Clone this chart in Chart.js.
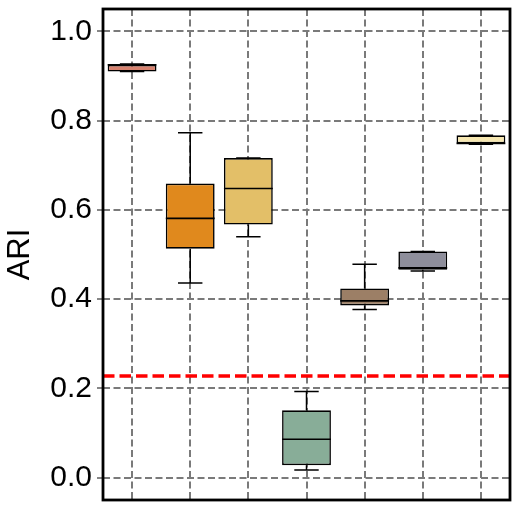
<!DOCTYPE html>
<html>
<head>
<meta charset="utf-8">
<script src="https://cdn.jsdelivr.net/npm/chart.js@4/dist/chart.umd.min.js"></script>
<style>
  html, body { margin: 0; padding: 0; background: #fff; }
  #wrap { width: 519px; height: 511px; }
</style>
</head>
<body>
<div id="wrap"><canvas id="ariChart" width="519" height="511"></canvas></div>
<script>
// categories (no labels shown on the x axis)
const methods = ['M1', 'M2', 'M3', 'M4', 'M5', 'M6', 'M7'];

// box statistics
const mins    = [0.910, 0.436, 0.540, 0.017, 0.377, 0.463, 0.747];
const q1s     = [0.910, 0.513, 0.567, 0.028, 0.386, 0.466, 0.749];
const medians = [0.925, 0.581, 0.648, 0.086, 0.396, 0.470, 0.749];
const q3s     = [0.925, 0.659, 0.716, 0.151, 0.424, 0.507, 0.767];
const maxs    = [0.927, 0.773, 0.716, 0.193, 0.478, 0.507, 0.767];

const boxColors = ['#d7826f', '#e0891d', '#e3bf68', '#88ad98', '#9c7f66', '#8e8e9b', '#f6e7b1'];

const yTicks = [0.0, 0.2, 0.4, 0.6, 0.8, 1.0];
const threshold = 0.228;

const FONT = '"Liberation Sans", Arial, sans-serif';

// whiskers, caps, medians, threshold line and frame
const boxExtras = {
    id: 'boxExtras',
    afterDatasetsDraw(chart) {
        const ctx = chart.ctx;
        const x = chart.scales.x;
        const y = chart.scales.y;
        const meta = chart.getDatasetMeta(0);
        ctx.save();
        ctx.strokeStyle = '#000';
        ctx.lineCap = 'butt';
        methods.forEach((m, i) => {
            const cx = x.getPixelForValue(i);
            const w = meta.data[i].width;
            const yMin = y.getPixelForValue(mins[i]);
            const yQ1 = y.getPixelForValue(q1s[i]);
            const yQ3 = y.getPixelForValue(q3s[i]);
            const yMax = y.getPixelForValue(maxs[i]);
            const yMed = y.getPixelForValue(medians[i]);
            ctx.lineWidth = 1.5;
            ctx.beginPath();
            ctx.moveTo(cx, yQ3); ctx.lineTo(cx, yMax);
            ctx.moveTo(cx, yQ1); ctx.lineTo(cx, yMin);
            ctx.moveTo(cx - w / 4, yMax); ctx.lineTo(cx + w / 4, yMax);
            ctx.moveTo(cx - w / 4, yMin); ctx.lineTo(cx + w / 4, yMin);
            ctx.stroke();
            ctx.beginPath();
            ctx.lineWidth = 1.6;
            ctx.moveTo(cx - w / 2, yMed); ctx.lineTo(cx + w / 2, yMed);
            ctx.stroke();
        });

        // red dashed reference line
        const a = chart.chartArea;
        const yt = y.getPixelForValue(threshold);
        ctx.beginPath();
        ctx.strokeStyle = '#ff0000';
        ctx.lineWidth = 3.5;
        ctx.setLineDash([11.5, 5]);
        ctx.moveTo(a.left, yt);
        ctx.lineTo(a.right, yt);
        ctx.stroke();
        ctx.setLineDash([]);

        // frame
        ctx.strokeStyle = '#000';
        ctx.lineWidth = 2.8;
        ctx.strokeRect(a.left, a.top, a.right - a.left, a.bottom - a.top);
        ctx.restore();
    }
};

new Chart(document.getElementById('ariChart'), {
    type: 'bar',
    data: {
        labels: methods,
        datasets: [{
            label: 'ARI',
            data: methods.map((m, i) => [q1s[i], q3s[i]]),
            backgroundColor: boxColors,
            borderColor: '#000',
            borderWidth: 1.6,
            borderSkipped: false,
            barPercentage: 0.84,
            categoryPercentage: 1.0
        }]
    },
    options: {
        responsive: false,
        animation: false,
        devicePixelRatio: 1,
        layout: { padding: { top: 9, right: 9, left: 0, bottom: 0 } },
        plugins: {
            legend: { display: false },
            tooltip: { enabled: false }
        },
        scales: {
            x: {
                grid: {
                    offset: false,
                    drawTicks: false,
                    color: '#7a7a7a',
                    lineWidth: 2
                },
                border: { display: false, dash: [7, 3.5] },
                ticks: { display: false },
                afterFit(scale) { scale.height = 11; }
            },
            y: {
                min: -0.05,
                max: 1.05,
                afterBuildTicks(axis) {
                    axis.ticks = yTicks.map(v => ({ value: v }));
                },
                grid: {
                    color: '#7a7a7a',
                    lineWidth: 2,
                    tickLength: 6,
                    tickColor: '#444',
                    tickWidth: 1.3
                },
                border: { display: false, dash: [7, 3.5] },
                ticks: {
                    padding: 5,
                    color: '#000',
                    font: { family: FONT, size: 30 },
                    callback: v => v.toFixed(1)
                },
                title: {
                    display: true,
                    text: 'ARI',
                    color: '#000',
                    font: { family: FONT, size: 31 },
                    padding: { top: 2, bottom: 0 }
                },
                afterFit(scale) {
                    scale.width = 103;
                    scale.paddingTop = 0;
                    scale.paddingBottom = 0;
                }
            }
        }
    },
    plugins: [boxExtras]
});
</script>
</body>
</html>
